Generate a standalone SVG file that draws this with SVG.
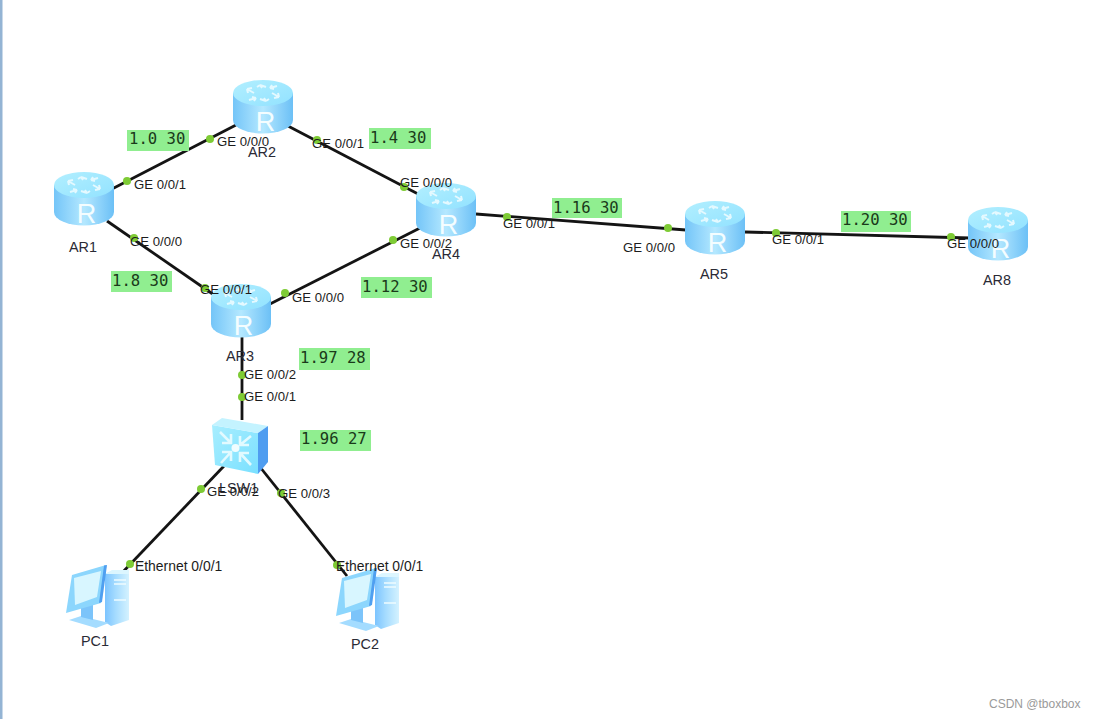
<svg xmlns="http://www.w3.org/2000/svg" width="1096" height="719" viewBox="0 0 1096 719">
<style>
text{font-family:"Liberation Sans",Arial,sans-serif;fill:#1c1c1c}
.p{font-size:13.2px}
.e{font-size:13.9px}
.n{font-size:14.4px;fill:#2a2a35}
.c{stroke:#141414;stroke-width:2.8;fill:none}
.d{fill:#7ecb35}
.g{fill:#90ee90}
.m{font-family:"DejaVu Sans Mono","Liberation Mono",monospace;font-size:15.6px;fill:#1a3a1a}
.r{font-size:27px;fill:#f4fdff;text-anchor:middle}
.a{fill:none;stroke:#e4f9ff;stroke-width:2}
</style>
<defs>
<linearGradient id="body" x1="0" x2="1" y1="0" y2="0"><stop offset="0" stop-color="#74c5f8"/><stop offset=".5" stop-color="#b4e8ff"/><stop offset="1" stop-color="#6cc0f6"/></linearGradient>
<linearGradient id="top" x1="0" x2="1" y1="0" y2="1"><stop offset="0" stop-color="#b2efff"/><stop offset="1" stop-color="#92e2ff"/></linearGradient>
<linearGradient id="face" x1="0" x2="1" y1="0" y2="1"><stop offset="0" stop-color="#a8eeff"/><stop offset="1" stop-color="#7ae0ff"/></linearGradient>
<linearGradient id="tower" x1="0" x2="1" y1="0" y2="0"><stop offset="0" stop-color="#7cc4ff"/><stop offset=".45" stop-color="#a6dcff"/><stop offset="1" stop-color="#d4f2ff"/></linearGradient>
<g id="router">
<path d="M0 13V40A30 13.5 0 0 0 60 40V13Z" fill="url(#body)"/>
<ellipse cx="30" cy="13" rx="30" ry="13" fill="url(#top)"/>
<path class="a" d="M14 9l7 4M14 9l1 4M14 9l5-1M27 5l6 2M27 5l2 3M27 5l-3 2M46 17l-7-4M46 17l-1-4M46 17l-5 1M33 21l-6-2M33 21l-2-3M33 21l3-2M23 18l-7 2M23 18l-2 3M23 18l-4-1M37 8l7-2M37 8l2-3M37 8l4 1"/>
<text class="r" x="32.500" y="51">R</text>
</g>
<g id="pc">
<path d="M41 7L48 4H65V53L47 59L41 55Z" fill="url(#tower)"/>
<path d="M41 7L48 3H65V7Z" fill="#dcf6ff"/>
<path d="M50 13H62M50 17H62M50 33H62" stroke="#eefbff" stroke-width="1.300"/>
<path d="M5 53L17 49L45 56L32 61Z" fill="#a4dcff"/>
<path d="M17 38L29 35L29 53L17 50Z" fill="#7cc4fa"/>
<path d="M8 8L42 -2L37 36L2 46Z" fill="#8cd6fd"/>
<path d="M40 -1.500L43 -2L38 35L35 36Z" fill="#4f9ff0"/>
<path d="M10 11L37 4L33 30L11 38Z" fill="#d8f6ff"/>
</g>
</defs>
<rect width="1096" height="719" fill="#fff"/>
<rect width="2.500" height="719" fill="#94b4d4"/>
<g id="connectors">
<path class="c" d="M110 190L236 125"/>
<path class="c" d="M288 126L420 195"/>
<path class="c" d="M107 221L217 297"/>
<path class="c" d="M268 305L420 228"/>
<path class="c" d="M476 214L686 230"/>
<path class="c" d="M745 232L970 238"/>
<path class="c" d="M242 337V420"/>
<path class="c" d="M224 466L120 575"/>
<path class="c" d="M260 467L347 576"/>
</g>
<g id="AR1"><use href="#router" x="54" y="172"/><text class="n" x="69" y="252">AR1</text></g>
<g id="AR2"><use href="#router" x="233" y="80"/><text class="n" x="248" y="157">AR2</text></g>
<g id="AR3"><use href="#router" x="211" y="284"/><text class="n" x="226" y="361">AR3</text></g>
<g id="AR4"><use href="#router" x="416" y="183"/><text class="n" x="432" y="259">AR4</text></g>
<g id="AR5"><use href="#router" x="685" y="201"/><text class="n" x="700" y="279">AR5</text></g>
<g id="AR8"><use href="#router" x="968" y="207"/><text class="n" x="983" y="285">AR8</text></g>
<g id="LSW1">
<path d="M212 425L258 433V474L215 465Z" fill="url(#face)"/>
<path d="M212 425L222 418L268 426L258 433Z" fill="#c4f3ff"/>
<path d="M258 433L268 426V462L258 474Z" fill="#4f9df0"/>
<path d="M220 432L231 443M231 434V443H222M251 436L240 445M240 436V445H249M221 463L231 452M222 452H231V461M251 465L240 453M249 453H240V462" fill="none" stroke="#e2faff" stroke-width="2.600"/>
<circle cx="235.500" cy="448" r="4" fill="#f0fdff"/>
<text class="n" x="219" y="493">LSW1</text>
</g>
<g id="PC1"><use href="#pc" x="64" y="567"/><text class="n" x="81" y="646">PC1</text></g>
<g id="PC2"><use href="#pc" x="334" y="570"/><text class="n" x="351" y="649">PC2</text></g>
<g id="ports">
<circle class="d" r="4" cx="127" cy="181"/><circle class="d" r="4" cx="210" cy="139"/><circle class="d" r="4" cx="134" cy="238"/><circle class="d" r="4" cx="205" cy="288"/><circle class="d" r="4" cx="285" cy="293"/><circle class="d" r="4" cx="393" cy="240"/><circle class="d" r="4" cx="317" cy="140"/><circle class="d" r="4" cx="404" cy="187"/><circle class="d" r="4" cx="507" cy="217"/><circle class="d" r="4" cx="668" cy="228"/><circle class="d" r="4" cx="776" cy="233"/><circle class="d" r="4" cx="951" cy="237"/><circle class="d" r="4" cx="242" cy="375"/><circle class="d" r="4" cx="242" cy="397"/><circle class="d" r="4" cx="201" cy="489"/><circle class="d" r="4" cx="281" cy="493"/><circle class="d" r="4" cx="130" cy="564"/><circle class="d" r="4" cx="337" cy="565"/>
<text class="p" x="134" y="189">GE 0/0/1</text>
<text class="p" x="217" y="146">GE 0/0/0</text>
<text class="p" x="130" y="246">GE 0/0/0</text>
<text class="p" x="312" y="148">GE 0/0/1</text>
<text class="p" x="400" y="187">GE 0/0/0</text>
<text class="p" x="400" y="248">GE 0/0/2</text>
<text class="p" x="503" y="228">GE 0/0/1</text>
<text class="p" x="623" y="252">GE 0/0/0</text>
<text class="p" x="772" y="244">GE 0/0/1</text>
<text class="p" x="947" y="248">GE 0/0/0</text>
<text class="p" x="200" y="294">GE 0/0/1</text>
<text class="p" x="292" y="302">GE 0/0/0</text>
<text class="p" x="244" y="379">GE 0/0/2</text>
<text class="p" x="244" y="401">GE 0/0/1</text>
<text class="p" x="207" y="496">GE 0/0/2</text>
<text class="p" x="278" y="498">GE 0/0/3</text>
<text class="e" x="135" y="571">Ethernet 0/0/1</text>
<text class="e" x="336" y="571">Ethernet 0/0/1</text>
</g>
<g id="subnets">
<rect class="g" x="127" y="130" width="62" height="21"/><text class="m" x="129" y="144">1.0 30</text>
<rect class="g" x="369" y="128" width="62" height="21"/><text class="m" x="370" y="143">1.4 30</text>
<rect class="g" x="552" y="198" width="70" height="20"/><text class="m" x="553" y="213">1.16 30</text>
<rect class="g" x="841" y="211" width="70" height="21"/><text class="m" x="842" y="225">1.20 30</text>
<rect class="g" x="111" y="271" width="61" height="21"/><text class="m" x="112" y="286">1.8 30</text>
<rect class="g" x="361" y="277" width="71" height="21"/><text class="m" x="362" y="292">1.12 30</text>
<rect class="g" x="299" y="348" width="71" height="22"/><text class="m" x="300" y="363">1.97 28</text>
<rect class="g" x="300" y="430" width="71" height="21"/><text class="m" x="301" y="444">1.96 27</text>
</g>
<text x="989" y="708" font-size="12" style="fill:#9a9a9a">CSDN @tboxbox</text>
</svg>
